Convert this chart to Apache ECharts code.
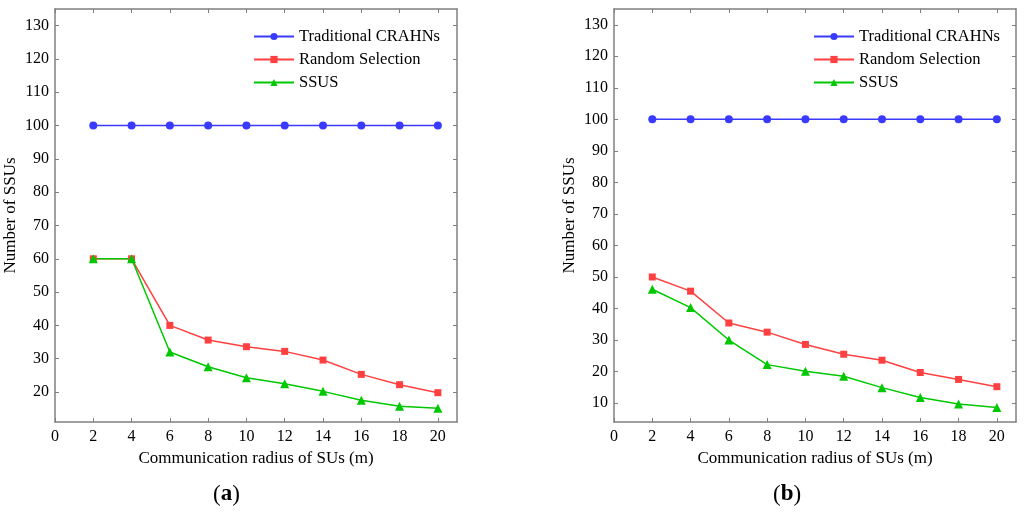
<!DOCTYPE html>
<html>
<head>
<meta charset="utf-8">
<script src="https://cdn.jsdelivr.net/npm/echarts@6/dist/echarts.min.js"></script>
<style>
html,body{margin:0;padding:0;background:#fff;}
#c{width:1024px;height:519px;}
</style>
</head>
<body>
<div id="c"></div>
<script>
var radius = [2, 4, 6, 8, 10, 12, 14, 16, 18, 20];
var xTicks = [0, 2, 4, 6, 8, 10, 12, 14, 16, 18, 20];
var yTicksA = [20, 30, 40, 50, 60, 70, 80, 90, 100, 110, 120, 130];
var yTicksB = [10, 20, 30, 40, 50, 60, 70, 80, 90, 100, 110, 120, 130];
var seriesNames = ['Traditional CRAHNs', 'Random Selection', 'SSUS'];
var traditionalA = [100, 100, 100, 100, 100, 100, 100, 100, 100, 100];
var randomA = [60, 60, 40, 35.6, 33.6, 32.2, 29.6, 25.3, 22.2, 19.8];
var ssusA = [60, 60, 32.0, 27.6, 24.3, 22.5, 20.2, 17.5, 15.7, 15.1];
var traditionalB = [100, 100, 100, 100, 100, 100, 100, 100, 100, 100];
var randomB = [50, 45.5, 35.4, 32.5, 28.6, 25.5, 23.6, 19.7, 17.5, 15.2];
var ssusB = [46.1, 40.3, 30, 22.2, 20.1, 18.5, 14.9, 11.8, 9.7, 8.6];
var xName = 'Communication radius of SUs (m)';
var yName = 'Number of SSUs';

var FONT = '"Liberation Serif", "DejaVu Serif", serif';
var FRAME = '#808080';
var colors = ['#3a3aff', '#ff4040', '#00c800'];
var symbols = ['circle', 'rect', 'triangle'];
var symSizes = [8, 7, 9];

function pairs(ys) { return radius.map(function (x, i) { return [x, ys[i]]; }); }

function xAx(gi, pos, showLabel) {
  return {
    type: 'value', gridIndex: gi, position: pos, min: 0, max: 21,
    name: showLabel ? xName : '', nameLocation: 'middle', nameGap: 28,
    nameTextStyle: { fontFamily: FONT, fontSize: 17, color: '#000' },
    axisLine: { show: true, onZero: false, lineStyle: { color: FRAME, width: 1.5 } },
    axisTick: { show: true, inside: true, length: 4, customValues: xTicks, lineStyle: { color: FRAME, width: 1 } },
    axisLabel: { show: showLabel, customValues: xTicks, margin: 7, fontFamily: FONT, fontSize: 16, color: '#000' },
    splitLine: { show: false }
  };
}
function yAx(gi, pos, showLabel, min, ticks) {
  return {
    type: 'value', gridIndex: gi, position: pos, min: min, max: 135,
    name: showLabel ? yName : '', nameLocation: 'middle', nameGap: 36,
    nameTextStyle: { fontFamily: FONT, fontSize: 17, color: '#000' },
    axisLine: { show: true, onZero: false, lineStyle: { color: FRAME, width: 1.5 } },
    axisTick: { show: true, inside: true, length: 4, customValues: ticks, lineStyle: { color: FRAME, width: 1 } },
    axisLabel: { show: showLabel, customValues: ticks, margin: 6, fontFamily: FONT, fontSize: 16, color: '#000' },
    splitLine: { show: false }
  };
}
function ser(name, k, gi, ys) {
  return {
    type: 'line', name: name, xAxisIndex: gi * 2, yAxisIndex: gi * 2, data: pairs(ys),
    symbol: symbols[k], symbolSize: symSizes[k], showSymbol: true,
    lineStyle: { color: colors[k], width: 1.5 }, itemStyle: { color: colors[k] },
    animation: false
  };
}
function legend(left) {
  return {
    data: seriesNames, left: left, top: 23, orient: 'vertical', itemWidth: 40, itemHeight: 9,
    itemGap: 6, textStyle: { fontFamily: FONT, fontSize: 16.5, color: '#000', padding: [0, 0, 0, 0] },
    selectedMode: false
  };
}

var chart = echarts.init(document.getElementById('c'));
chart.setOption({
  backgroundColor: '#fff',
  animation: false,
  grid: [
    { left: 55, top: 9, width: 402, height: 413 },
    { left: 614, top: 9, width: 402, height: 413 }
  ],
  legend: [legend(248), legend(808)],
  xAxis: [xAx(0, 'bottom', true), xAx(0, 'top', false), xAx(1, 'bottom', true), xAx(1, 'top', false)],
  yAxis: [yAx(0, 'left', true, 11, yTicksA), yAx(0, 'right', false, 11, yTicksA),
          yAx(1, 'left', true, 4, yTicksB), yAx(1, 'right', false, 4, yTicksB)],
  series: [
    ser(seriesNames[0], 0, 0, traditionalA), ser(seriesNames[1], 1, 0, randomA), ser(seriesNames[2], 2, 0, ssusA),
    ser(seriesNames[0], 0, 1, traditionalB), ser(seriesNames[1], 1, 1, randomB), ser(seriesNames[2], 2, 1, ssusB)
  ],
  graphic: [
    { type: 'text', left: 213, top: 483, style: { text: '{n|(}{b|a}{n|)}', rich: {
      n: { fontFamily: FONT, fontSize: 23, fill: '#000' }, b: { fontFamily: FONT, fontSize: 23, fontWeight: 'bold', fill: '#000' } } } },
    { type: 'text', left: 773, top: 483, style: { text: '{n|(}{b|b}{n|)}', rich: {
      n: { fontFamily: FONT, fontSize: 23, fill: '#000' }, b: { fontFamily: FONT, fontSize: 23, fontWeight: 'bold', fill: '#000' } } } }
  ]
});
</script>
</body>
</html>
